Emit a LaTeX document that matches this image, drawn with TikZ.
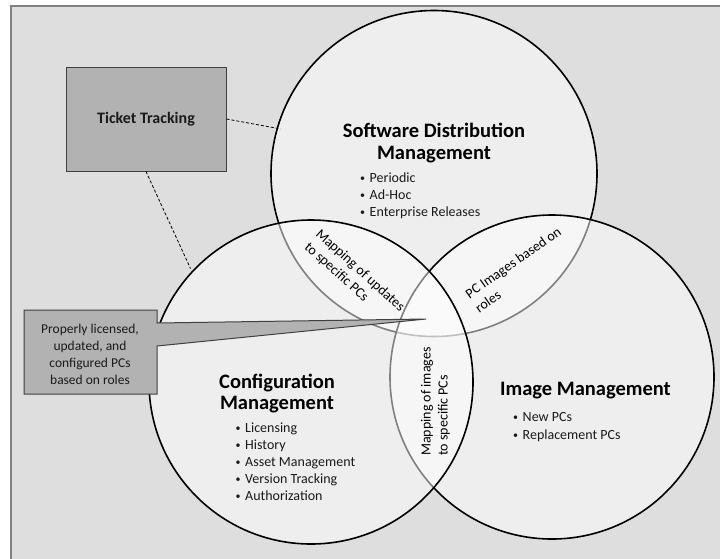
\documentclass[tikz,border=0pt]{standalone}
\usepackage{fontspec}
\setmainfont{Carlito}
\definecolor{bgc}{HTML}{DEDEDE}
\definecolor{framec}{HTML}{808080}
\definecolor{boxc}{HTML}{B2B2B2}
\definecolor{boxline}{HTML}{404040}
\definecolor{txt}{HTML}{1A1A1A}
\newcommand{\vbul}{\makebox[9.5pt][l]{\raisebox{0.6pt}{\fontsize{10}{10}\selectfont\textbullet}}}
\begin{document}
\begin{tikzpicture}[x=1pt,y=-1pt,
  venn/.style={circle, draw=black, line width=1.6pt, fill=white, fill opacity=0.5, inner sep=0pt, outer sep=0pt},
  titletext/.style={font=\fontsize{20.5}{22}\selectfont\bfseries, inner sep=0pt, anchor=base, text=black},
  itemtext/.style={font=\fontsize{14}{17}\selectfont, inner sep=0pt, anchor=base west, text=txt},
  lbl/.style={font=\fontsize{14}{17}\selectfont, inner sep=0pt, align=left, text=black},
  calltext/.style={font=\fontsize{13.5}{17}\selectfont, inner sep=0pt, anchor=base, text=txt},
  graybox/.style={draw=boxline, fill=boxc, line width=1pt},
  dashline/.style={draw=black, line width=0.8pt, dash pattern=on 3pt off 2pt}]
\useasboundingbox (0,0) rectangle (720,558);
\clip (0,0) rectangle (720,558);
\fill[white] (0,0) rectangle (720,558);
\draw[fill=bgc, draw=framec, line width=2pt] (11,5.5) rectangle (745,590);

% dashed connectors
\node[graybox, minimum width=160pt, minimum height=104pt, font=\fontsize{16}{18}\selectfont\bfseries, text=txt] (tt) at (146,119) {Ticket Tracking};
\coordinate (c1) at (281,129);
\coordinate (c2) at (190.5,268.5);
\draw[dashline] (tt.east) -- (c1);
\draw[dashline] (tt.south) -- (c2);

% circles
\node[venn, minimum size=326pt] (sdm) at (434,173.5) {};
\node[venn, minimum size=324pt] (img) at (552,377) {};
\node[venn, minimum size=324pt] (cfg) at (311,382) {};

% titles
\node[titletext] (sdmt1) at (434,137.5) {Software Distribution};
\node[titletext] (sdmt2) at (434,159) {Management};
\node[titletext] (cfgt1) at (277,388) {Configuration};
\node[titletext] (cfgt2) at (277,409.5) {Management};
\node[titletext] (imgt1) at (585.5,395) {Image Management};

% bullet items
\node[itemtext] (s1) at (360,182) {\vbul Periodic};
\node[itemtext] (s2) at (360,199) {\vbul Ad-Hoc};
\node[itemtext] (s3) at (360,216) {\vbul Enterprise Releases};
\node[itemtext] (k1) at (235.5,432) {\vbul Licensing};
\node[itemtext] (k2) at (235.5,449) {\vbul History};
\node[itemtext] (k3) at (235.5,466) {\vbul Asset Management};
\node[itemtext] (k4) at (235.5,483) {\vbul Version Tracking};
\node[itemtext] (k5) at (235.5,500) {\vbul Authorization};
\node[itemtext] (i1) at (513,421.5) {\vbul New PCs};
\node[itemtext] (i2) at (513,439.5) {\vbul Replacement PCs};

% intersection labels
\node[lbl, rotate=-42] (l1) at (354.4,277.2) {Mapping of updates\\to specific PCs};
\node[lbl, rotate=35] (l2) at (518,269.7) {PC Images based on\\roles};
\node[lbl, rotate=90] (l3) at (435.5,401.5) {Mapping of images\\to specific PCs};

% callout
\coordinate (tip) at (426,319);
\draw[graybox] (24,310) -- (157,310) -- (157,323) -- (tip) -- (157,346) -- (157,394) -- (24,394) -- cycle;
\node[calltext] (p1) at (90,333) {Properly licensed,};
\node[calltext] (p2) at (90,350) {updated, and};
\node[calltext] (p3) at (90,367) {configured PCs};
\node[calltext] (p4) at (90,384) {based on roles};
\end{tikzpicture}
\end{document}
